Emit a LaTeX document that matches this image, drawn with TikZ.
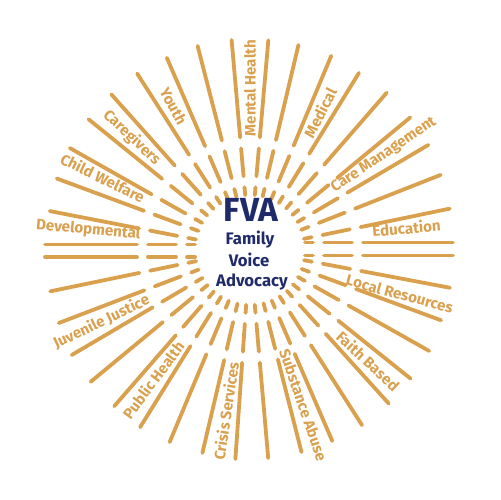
\documentclass[tikz,border=0pt]{standalone}
\usepackage{fontspec}
\setmainfont{Fira Sans}
\definecolor{gold}{HTML}{D9A04E}
\definecolor{navy}{HTML}{1F2A6B}
\begin{document}
\begin{tikzpicture}[x=0.02cm,y=0.02cm,
  ray/.style={draw=gold,line width=0.076cm,line cap=round},
  lbl/.style={text=gold,font=\bfseries\fontsize{8.6}{10}\selectfont,inner sep=0pt,anchor=center},
  ctr/.style={text=navy,inner sep=0pt,anchor=base}]
\useasboundingbox (-250,-250) rectangle (250,250);
% radial rays
\foreach \a/\R in {11.7/204, 21.5/205, 30.5/207, 39.6/208, 49/208.5, 58.4/208, 67.3/210.5, 76.7/210.7, 85/210.5,
  95/210.8, 104.4/210.7, 113.4/209.4, 122.6/209.4, 131.7/208.4, 141/207.7, 150.5/207, 159.7/206, 169/204,
  191.7/204, 200.9/204.7, 210.5/206.9, 219.6/206.8, 229/207, 238.2/208.6, 247.3/208.2, 256.8/208.5, 266/209.5,
  275/208.8, 284.3/208.5, 293.3/208, 302.6/208, 312.1/206.9, 321.3/205.7, 330.6/205.7, 339.8/203.6, 349.3/203.5}
{
  \draw[ray] (\a:55) -- (\a:63) (\a:74) -- (\a:102) (\a:113) -- (\a:\R);
}
% horizontal pairs
\foreach \y in {7.5,-5.5}{
  \draw[ray] (55,\y) -- (63,\y) (74,\y) -- (102,\y) (113,\y) -- (203,\y);
}
\foreach \y in {5.5,-7}{
  \draw[ray] (-55,\y) -- (-63,\y) (-74,\y) -- (-102,\y) (-113,\y) -- (-205,\y);
}
% labels
\node[lbl,rotate=90] (mh) at (90:162) {Mental Health};
\node[lbl,rotate=63] (med) at (63:154) {Medical};
\node[lbl,rotate=34] (cm) at (35.3:164) {Care Management};
\node[lbl,rotate=5] (edu) at (8:158) {Education};
\node[lbl,rotate=-15] (lr) at (-16.3:156) {Local Resources};
\node[lbl,rotate=-43] (fb) at (-43.2:162) {Faith Based};
\node[lbl,rotate=-71] (sa) at (-71:164) {Substance Abuse};
\node[lbl,rotate=81.5] (cs) at (261.5:163) {Crisis Services};
\node[lbl,rotate=53.3] (ph) at (233.3:162) {Public Health};
\node[lbl,rotate=25.8] (jj) at (205.8:165) {Juvenile Justice};
\node[lbl,rotate=-5] (dev) at (173:163) {Developmental};
\node[lbl,rotate=-26] (cw) at (153.9:164) {Child Welfare};
\node[lbl,rotate=-43.5] (cg) at (136.5:163) {Caregivers};
\node[lbl,rotate=-62] (yo) at (118:163) {Youth};
% centre
\node[ctr,font=\bfseries\fontsize{19}{20}\selectfont] (fva) at (1,28) {FVA};
\node[ctr,font=\bfseries\fontsize{9.5}{11}\selectfont] (fam) at (0,5) {Family};
\node[ctr,font=\bfseries\fontsize{9.5}{11}\selectfont] (voi) at (-1,-17) {Voice};
\node[ctr,font=\bfseries\fontsize{9.5}{11}\selectfont] (adv) at (2,-36.5) {Advocacy};
\end{tikzpicture}
\end{document}
